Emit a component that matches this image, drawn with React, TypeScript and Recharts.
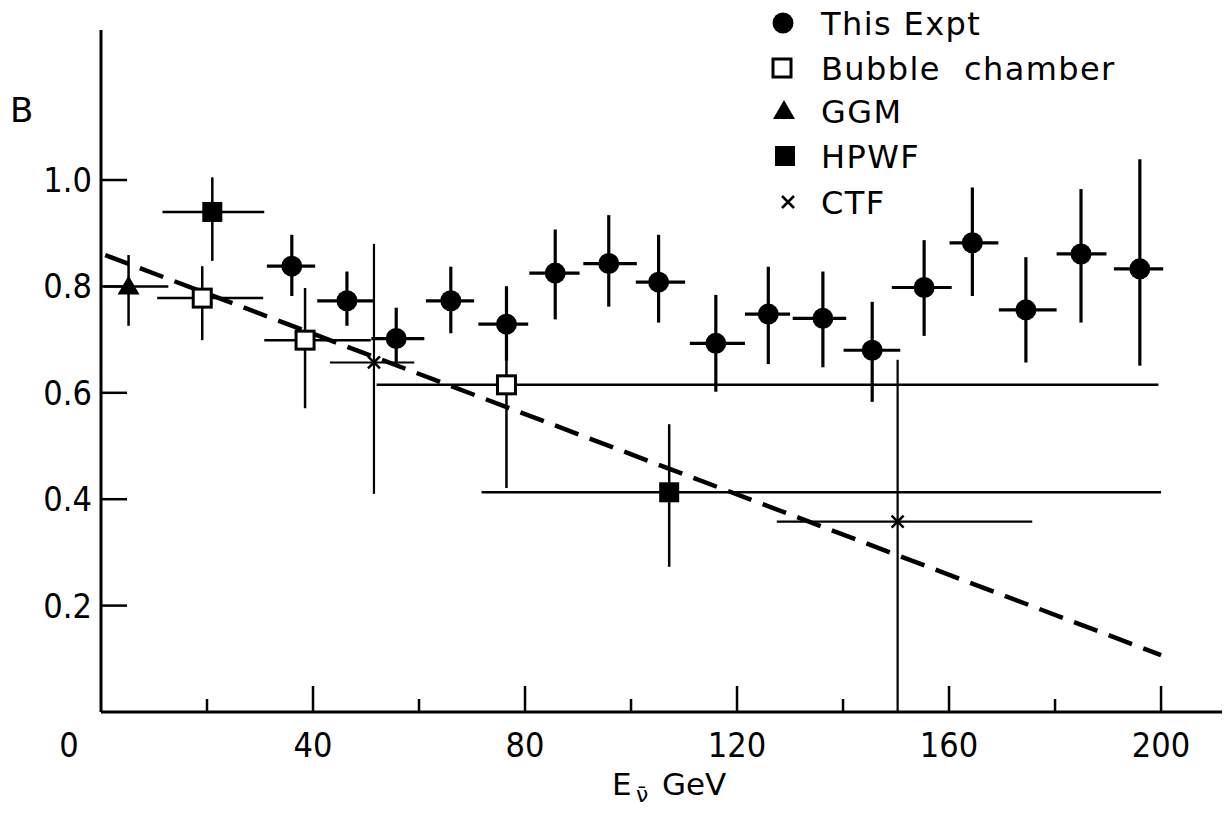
import React from 'react';
import { ComposedChart, XAxis, YAxis, Scatter, Line, ErrorBar, Legend } from 'recharts';

// ---- axis ticks ----
const xTicks = [0, 20, 40, 60, 80, 100, 120, 140, 160, 180, 200];
const xTickLabels = ['0', '', '40', '', '80', '', '120', '', '160', '', '200'];
const yTicks = [0.2, 0.4, 0.6, 0.8, 1.0];
const yTickLabels = ['0.2', '0.4', '0.6', '0.8', '1.0'];

// ---- This Expt (filled circles) ----
const exptE = [36.0, 46.4, 55.7, 66.0, 76.5, 85.7, 95.8, 105.2, 116.0, 125.9, 136.2, 145.5, 155.3, 164.4, 174.5, 184.9, 196.0];
const exptB = [0.838, 0.773, 0.702, 0.773, 0.729, 0.825, 0.843, 0.808, 0.693, 0.748, 0.740, 0.680, 0.798, 0.882, 0.756, 0.861, 0.833];
const exptELow = [31.3, 40.8, 51.0, 61.3, 71.2, 80.8, 91.0, 100.9, 111.1, 121.5, 130.5, 140.1, 149.2, 160.1, 169.4, 180.3, 191.1];
const exptEHigh = [40.4, 51.3, 61.0, 70.4, 80.6, 90.3, 101.1, 110.2, 121.5, 130.0, 140.6, 150.8, 160.5, 169.3, 180.3, 189.7, 200.4];
const exptBLow = [0.782, 0.726, 0.658, 0.712, 0.66, 0.738, 0.762, 0.732, 0.602, 0.654, 0.648, 0.583, 0.707, 0.782, 0.657, 0.732, 0.651];
const exptBHigh = [0.897, 0.828, 0.760, 0.837, 0.80, 0.907, 0.934, 0.897, 0.784, 0.837, 0.828, 0.771, 0.887, 0.986, 0.855, 0.983, 1.039];

// ---- Bubble chamber (open squares) ----
const bcE = [19.1, 38.5, 76.5];
const bcB = [0.778, 0.699, 0.615];
const bcELow = [10.6, 30.8, 52.0];
const bcEHigh = [30.6, 50.9, 199.5];
const bcBLow = [0.699, 0.571, 0.421];
const bcBHigh = [0.838, 0.797, 0.80];

// ---- GGM (triangle) ----
const ggmE = [5.2];
const ggmB = [0.80];
const ggmELow = [0.5];
const ggmEHigh = [12.7];
const ggmBLow = [0.726];
const ggmBHigh = [0.859];

// ---- HPWF (filled squares) ----
const hpwfE = [21.0, 107.2];
const hpwfB = [0.940, 0.413];
const hpwfELow = [11.6, 71.8];
const hpwfEHigh = [30.8, 200.0];
const hpwfBLow = [0.848, 0.273];
const hpwfBHigh = [1.005, 0.541];

// ---- CTF (crosses) ----
const ctfE = [51.5, 150.3];
const ctfB = [0.657, 0.358];
const ctfELow = [43.2, 127.5];
const ctfEHigh = [59.1, 175.7];
const ctfBLow = [0.41, 0.0];
const ctfBHigh = [0.88, 0.662];

// ---- dashed fit line ----
const fitE = [0.8, 200];
const fitB = [0.859, 0.107];

// ---- legend ----
const legendNames = ['This Expt', 'Bubble  chamber', 'GGM', 'HPWF', 'CTF'];

const INK = '#000';
const TICK_FONT = "'Liberation Sans Narrow', 'DejaVu Sans Condensed', Roboto, sans-serif";
const TEXT_FONT = "'DejaVu Sans', sans-serif";

function build(E: number[], B: number[], El: number[], Eh: number[], Bl: number[], Bh: number[]) {
  return E.map((x, i) => ({
    x,
    y: B[i],
    xErr: [x - El[i], Eh[i] - x],
    yErr: [B[i] - Bl[i], Bh[i] - B[i]],
  }));
}

const exptData = build(exptE, exptB, exptELow, exptEHigh, exptBLow, exptBHigh);
const bcData = build(bcE, bcB, bcELow, bcEHigh, bcBLow, bcBHigh);
const ggmData = build(ggmE, ggmB, ggmELow, ggmEHigh, ggmBLow, ggmBHigh);
const hpwfData = build(hpwfE, hpwfB, hpwfELow, hpwfEHigh, hpwfBLow, hpwfBHigh);
const ctfData = build(ctfE, ctfB, ctfELow, ctfEHigh, ctfBLow, ctfBHigh);
const fitData = fitE.map((x, i) => ({ x, y: fitB[i] }));

// ---- marker shapes ----
const circleMark = (cx: number, cy: number) => <circle cx={cx} cy={cy} r={10.5} fill={INK} />;
const openSquareMark = (cx: number, cy: number) => (
  <rect x={cx - 9} y={cy - 9} width={18} height={18} fill="#fff" stroke={INK} strokeWidth={3} />
);
const triangleMark = (cx: number, cy: number) => (
  <polygon points={`${cx},${cy - 11} ${cx - 11},${cy + 8} ${cx + 11},${cy + 8}`} fill={INK} />
);
const filledSquareMark = (cx: number, cy: number) => (
  <rect x={cx - 10} y={cy - 10} width={20} height={20} fill={INK} />
);
const crossMark = (cx: number, cy: number) => (
  <g stroke={INK} strokeWidth={2.5}>
    <line x1={cx - 6} y1={cy - 6} x2={cx + 6} y2={cy + 6} />
    <line x1={cx - 6} y1={cy + 6} x2={cx + 6} y2={cy - 6} />
  </g>
);
const markers = [circleMark, openSquareMark, triangleMark, filledSquareMark, crossMark];

const shapeOf = (fn: (cx: number, cy: number) => React.ReactElement) => (props: any) => fn(props.cx, props.cy);

// ---- ticks ----
const renderXTick = (props: any) => {
  const { x, y, payload } = props;
  const v = payload.value;
  const idx = xTicks.indexOf(v);
  const label = idx >= 0 ? xTickLabels[idx] : '';
  const major = label !== '';
  return (
    <g>
      {v !== 0 && <line x1={x} y1={y} x2={x} y2={y - (major ? 26 : 13)} stroke={INK} strokeWidth={2.5} />}
      {major && (
        <text x={v === 0 ? x - 32 : x} y={y + 45} textAnchor="middle" fontSize={34} fontFamily={TICK_FONT} fill={INK}>
          {label}
        </text>
      )}
    </g>
  );
};

const renderYTick = (props: any) => {
  const { x, y, payload } = props;
  const idx = yTicks.findIndex((t) => Math.abs(t - payload.value) < 1e-9);
  const label = idx >= 0 ? yTickLabels[idx] : '';
  return (
    <g>
      <line x1={x} y1={y} x2={x + 26} y2={y} stroke={INK} strokeWidth={2.5} />
      <text x={x - 9} y={y + 12} textAnchor="end" fontSize={34} fontFamily={TICK_FONT} fill={INK}>
        {label}
      </text>
    </g>
  );
};

const legendMarkX = [783, 782, 784, 785, 788];
const legendRowY = [23, 68, 111, 156, 202];

const renderLegend = () => (
  <svg width={460} height={240} style={{ display: 'block' }}>
    <g transform="translate(-760,0)">
      {legendNames.map((name, i) => (
        <g key={name}>
          {markers[i](legendMarkX[i], legendRowY[i])}
          <text
            x={821}
            y={legendRowY[i] + 12}
            fontSize={32}
            fontFamily={TEXT_FONT}
            fill={INK}
            letterSpacing={1.4}
            style={{ whiteSpace: 'pre' }}
          >
            {name}
          </text>
        </g>
      ))}
    </g>
  </svg>
);

export default function App() {
  return (
    <div style={{ position: 'absolute', left: 0, top: 0, width: 1224, height: 816, background: '#fff' }}>
      <ComposedChart width={1224} height={816} margin={{ top: 30, right: 2, bottom: 74, left: 41 }}>
        <XAxis
          type="number"
          dataKey="x"
          domain={[0, 211.5]}
          allowDataOverflow
          ticks={xTicks}
          interval={0}
          tickSize={0}
          tickMargin={0}
          tickLine={false}
          tick={renderXTick}
          axisLine={{ stroke: INK, strokeWidth: 3 }}
          height={30}
          label={{
            content: () => (
              <text x={612} y={795} fontSize={31} fontFamily={TEXT_FONT} fill={INK}>
                E
                <tspan x={636} dy={7} fontSize={22}>ν̄</tspan>
                <tspan x={662} dy={-7}>GeV</tspan>
              </text>
            ),
          }}
        />
        <YAxis
          type="number"
          dataKey="y"
          domain={[0, 1.282]}
          allowDataOverflow
          ticks={yTicks}
          interval={0}
          tickSize={0}
          tickMargin={0}
          tickLine={false}
          tick={renderYTick}
          axisLine={{ stroke: INK, strokeWidth: 3 }}
          width={60}
          label={{
            content: () => (
              <text x={10} y={122} fontSize={34} fontFamily={TEXT_FONT} fill={INK}>
                B
              </text>
            ),
          }}
        />
        <Legend
          layout="horizontal"
          verticalAlign="middle"
          align="center"
          content={renderLegend}
          wrapperStyle={{ left: 760, top: 0, width: 460, height: 240 }}
        />
        <Line
          data={fitData}
          dataKey="y"
          stroke={INK}
          strokeWidth={4.5}
          strokeDasharray="25 12"
          dot={false}
          isAnimationActive={false}
          legendType="none"
        />
        <Scatter name="CTF" data={ctfData} dataKey="y" shape={shapeOf(crossMark)} isAnimationActive={false}>
          <ErrorBar dataKey="xErr" direction="x" width={0} stroke={INK} strokeWidth={2.2} isAnimationActive={false} />
          <ErrorBar dataKey="yErr" direction="y" width={0} stroke={INK} strokeWidth={2.2} isAnimationActive={false} />
        </Scatter>
        <Scatter name="HPWF" data={hpwfData} dataKey="y" shape={shapeOf(filledSquareMark)} isAnimationActive={false}>
          <ErrorBar dataKey="xErr" direction="x" width={0} stroke={INK} strokeWidth={2.5} isAnimationActive={false} />
          <ErrorBar dataKey="yErr" direction="y" width={0} stroke={INK} strokeWidth={2.5} isAnimationActive={false} />
        </Scatter>
        <Scatter name="Bubble chamber" data={bcData} dataKey="y" shape={shapeOf(openSquareMark)} isAnimationActive={false}>
          <ErrorBar dataKey="xErr" direction="x" width={0} stroke={INK} strokeWidth={2.5} isAnimationActive={false} />
          <ErrorBar dataKey="yErr" direction="y" width={0} stroke={INK} strokeWidth={2.5} isAnimationActive={false} />
        </Scatter>
        <Scatter name="GGM" data={ggmData} dataKey="y" shape={shapeOf(triangleMark)} isAnimationActive={false}>
          <ErrorBar dataKey="xErr" direction="x" width={0} stroke={INK} strokeWidth={2.5} isAnimationActive={false} />
          <ErrorBar dataKey="yErr" direction="y" width={0} stroke={INK} strokeWidth={2.5} isAnimationActive={false} />
        </Scatter>
        <Scatter name="This Expt" data={exptData} dataKey="y" shape={shapeOf(circleMark)} isAnimationActive={false}>
          <ErrorBar dataKey="xErr" direction="x" width={0} stroke={INK} strokeWidth={3.2} isAnimationActive={false} />
          <ErrorBar dataKey="yErr" direction="y" width={0} stroke={INK} strokeWidth={3.2} isAnimationActive={false} />
        </Scatter>
      </ComposedChart>
    </div>
  );
}
